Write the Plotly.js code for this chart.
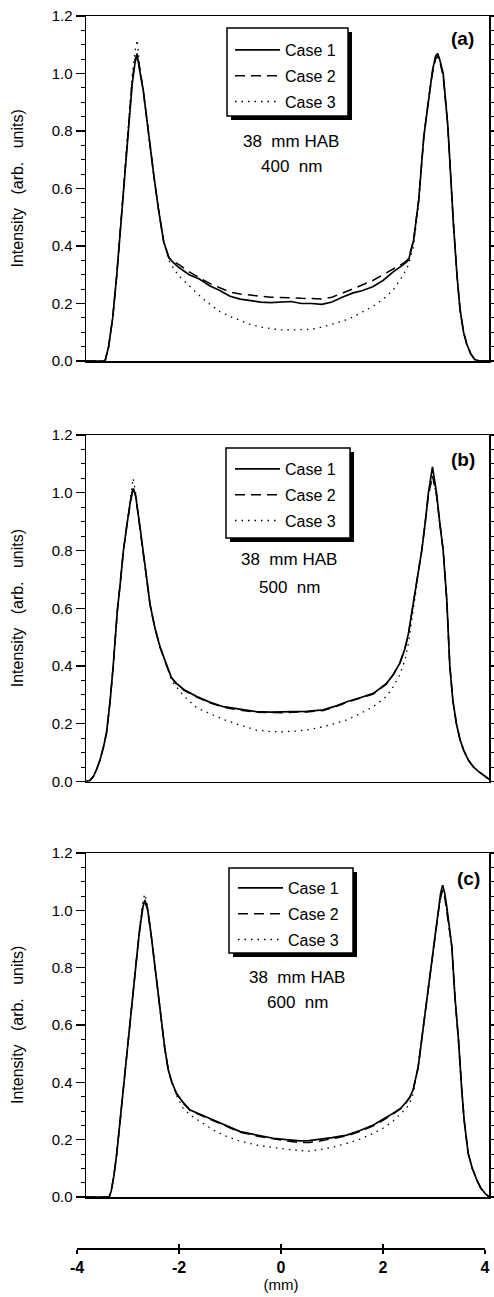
<!DOCTYPE html>
<html><head><meta charset="utf-8">
<script src="https://cdn.plot.ly/plotly-3.0.1.min.js"></script>
<style>html,body{margin:0;padding:0;background:#fff}#chart{width:494px;height:1297px}</style>
</head><body><div id="chart"></div>
<script>
// ---------- DATA ----------
const caseNames = ["Case 1", "Case 2", "Case 3"];
const panelLabels = ["(a)", "(b)", "(c)"];
const panelNotes = [["38\u00a0\u00a0mm\u00a0HAB", "400\u00a0\u00a0nm"], ["38\u00a0\u00a0mm\u00a0HAB", "500\u00a0\u00a0nm"], ["38\u00a0\u00a0mm\u00a0HAB", "600\u00a0\u00a0nm"]];
const yTickVals = [0, 0.2, 0.4, 0.6, 0.8, 1.0, 1.2];
const xTickVals = [-4, -2, 0, 2, 4];
const xAxisTitle = "(mm)";
const yAxisTitle = "Intensity\u00a0\u00a0\u00a0(arb.\u00a0\u00a0\u00a0units)";

// Panel (a) 400 nm
const xA  = [-3.82,-3.6,-3.45,-3.38,-3.30,-3.22,-3.15,-3.08,-3.00,-2.92,-2.86,-2.82,-2.78,-2.70,-2.63,-2.56,-2.49,-2.40,-2.30,-2.20,-2.10,-2.00,-1.80,-1.60,-1.40,-1.20,-1.00,-0.80,-0.60,-0.40,-0.20,0.00,0.20,0.40,0.60,0.80,1.00,1.20,1.40,1.60,1.80,2.00,2.20,2.40,2.50,2.60,2.70,2.80,2.90,2.97,3.03,3.07,3.11,3.18,3.27,3.32,3.38,3.45,3.51,3.58,3.64,3.72,3.80,3.90,4.08];
const yA1 = [0,0,0,0.05,0.15,0.30,0.45,0.62,0.80,0.96,1.04,1.065,1.02,0.94,0.84,0.73,0.64,0.525,0.415,0.36,0.34,0.325,0.30,0.285,0.262,0.245,0.225,0.215,0.21,0.205,0.203,0.205,0.207,0.20,0.20,0.197,0.205,0.222,0.236,0.245,0.258,0.28,0.31,0.335,0.35,0.42,0.56,0.78,0.92,1.01,1.06,1.07,1.05,1.00,0.82,0.66,0.48,0.30,0.18,0.10,0.06,0.025,0.005,0,0];
const yA2 = [0,0,0,0.05,0.15,0.30,0.45,0.62,0.80,0.97,1.05,1.07,1.03,0.94,0.84,0.73,0.64,0.525,0.415,0.36,0.345,0.335,0.31,0.29,0.27,0.255,0.24,0.233,0.228,0.225,0.222,0.222,0.22,0.218,0.218,0.216,0.222,0.235,0.25,0.265,0.28,0.30,0.32,0.34,0.355,0.42,0.56,0.78,0.92,1.00,1.05,1.06,1.045,0.99,0.82,0.66,0.48,0.30,0.18,0.10,0.06,0.025,0.005,0,0];
const yA3 = [0,0,0,0.05,0.15,0.30,0.46,0.63,0.82,0.99,1.08,1.117,1.04,0.94,0.84,0.73,0.64,0.525,0.415,0.35,0.32,0.295,0.262,0.228,0.198,0.172,0.155,0.14,0.127,0.118,0.112,0.108,0.108,0.108,0.11,0.118,0.127,0.138,0.152,0.17,0.19,0.215,0.247,0.30,0.334,0.40,0.55,0.78,0.92,1.01,1.06,1.07,1.05,1.00,0.82,0.66,0.48,0.30,0.18,0.10,0.06,0.025,0.005,0,0];

// Panel (b) 500 nm
const xB  = [-3.82,-3.75,-3.68,-3.62,-3.55,-3.48,-3.42,-3.35,-3.29,-3.21,-3.15,-3.09,-3.02,-2.95,-2.90,-2.85,-2.78,-2.70,-2.63,-2.57,-2.47,-2.37,-2.24,-2.15,-2.05,-1.90,-1.65,-1.40,-1.13,-0.80,-0.48,-0.20,0.00,0.24,0.50,0.83,1.05,1.29,1.55,1.81,2.07,2.20,2.33,2.43,2.50,2.60,2.68,2.76,2.83,2.89,2.97,3.05,3.11,3.18,3.25,3.31,3.37,3.44,3.51,3.58,3.67,3.77,3.87,3.97,4.08];
const yB1 = [0,0.003,0.017,0.04,0.074,0.12,0.17,0.28,0.40,0.59,0.69,0.80,0.89,0.975,1.015,0.99,0.90,0.80,0.70,0.615,0.53,0.465,0.40,0.36,0.34,0.318,0.294,0.275,0.259,0.25,0.242,0.24,0.24,0.242,0.243,0.248,0.26,0.276,0.29,0.305,0.34,0.37,0.41,0.46,0.513,0.62,0.70,0.80,0.90,1.00,1.09,1.00,0.90,0.80,0.63,0.40,0.28,0.20,0.145,0.109,0.075,0.051,0.035,0.022,0.008];
const yB2 = [0,0.003,0.017,0.04,0.074,0.12,0.17,0.28,0.40,0.59,0.69,0.80,0.89,0.975,1.02,0.99,0.90,0.80,0.70,0.615,0.53,0.465,0.40,0.36,0.338,0.316,0.292,0.273,0.257,0.247,0.24,0.238,0.238,0.24,0.241,0.246,0.258,0.274,0.288,0.303,0.338,0.37,0.41,0.46,0.513,0.62,0.70,0.80,0.90,0.99,1.06,0.99,0.90,0.80,0.63,0.40,0.28,0.20,0.145,0.109,0.075,0.051,0.035,0.022,0.008];
const yB3 = [0,0.003,0.017,0.04,0.074,0.12,0.17,0.28,0.40,0.59,0.69,0.80,0.89,0.985,1.05,1.00,0.90,0.80,0.70,0.615,0.53,0.465,0.40,0.35,0.328,0.295,0.255,0.235,0.215,0.195,0.178,0.173,0.172,0.174,0.178,0.19,0.20,0.213,0.235,0.259,0.295,0.328,0.37,0.42,0.48,0.60,0.70,0.80,0.90,0.99,1.055,0.99,0.90,0.80,0.63,0.40,0.28,0.20,0.145,0.109,0.075,0.051,0.035,0.022,0.008];

// Panel (c) 600 nm
const xC  = [-3.82,-3.50,-3.37,-3.33,-3.28,-3.22,-3.15,-3.09,-3.02,-2.96,-2.90,-2.85,-2.78,-2.71,-2.67,-2.62,-2.55,-2.47,-2.40,-2.34,-2.28,-2.21,-2.14,-2.05,-1.92,-1.78,-1.55,-1.33,-1.05,-0.80,-0.45,-0.15,0.10,0.37,0.55,0.76,1.00,1.29,1.55,1.81,2.00,2.20,2.35,2.46,2.53,2.59,2.69,2.79,2.89,2.99,3.09,3.13,3.17,3.21,3.25,3.35,3.41,3.48,3.54,3.59,3.67,3.75,3.84,3.92,4.00,4.08];
const yC1 = [0,0,0,0.02,0.07,0.152,0.27,0.385,0.50,0.60,0.70,0.80,0.92,1.01,1.036,1.01,0.92,0.80,0.68,0.60,0.52,0.443,0.40,0.362,0.33,0.303,0.285,0.269,0.248,0.228,0.215,0.205,0.20,0.196,0.197,0.201,0.207,0.216,0.232,0.251,0.27,0.292,0.31,0.332,0.35,0.373,0.454,0.594,0.733,0.873,1.013,1.06,1.088,1.06,1.013,0.873,0.70,0.548,0.385,0.27,0.152,0.10,0.059,0.03,0.013,0];
const yC2 = [0,0,0,0.02,0.07,0.152,0.27,0.385,0.50,0.60,0.70,0.80,0.92,1.01,1.03,1.005,0.92,0.80,0.68,0.60,0.52,0.443,0.40,0.36,0.328,0.301,0.283,0.267,0.246,0.226,0.212,0.202,0.196,0.19,0.19,0.195,0.203,0.213,0.229,0.248,0.267,0.29,0.308,0.33,0.348,0.373,0.454,0.594,0.733,0.873,1.00,1.045,1.07,1.045,1.00,0.873,0.70,0.548,0.385,0.27,0.152,0.10,0.059,0.03,0.013,0];
const yC3 = [0,0,0,0.02,0.07,0.152,0.27,0.385,0.50,0.60,0.70,0.80,0.93,1.03,1.057,1.02,0.92,0.80,0.68,0.60,0.52,0.443,0.40,0.355,0.31,0.286,0.26,0.234,0.21,0.195,0.18,0.172,0.167,0.162,0.16,0.165,0.173,0.187,0.202,0.222,0.24,0.265,0.29,0.31,0.33,0.36,0.45,0.594,0.733,0.873,1.00,1.045,1.07,1.045,1.00,0.873,0.70,0.548,0.385,0.27,0.152,0.10,0.059,0.03,0.013,0];

const panelX = [xA, xB, xC];
const panelY = [[yA1, yA2, yA3], [yB1, yB2, yB3], [yC1, yC2, yC3]];

// ---------- LAYOUT HELPERS (pixel geometry of the 494x1297 page) ----------
const W = 494, H = 1297;
const fx = p => p / W;
const fy = p => 1 - p / H;
const FONT = "Liberation Sans, Arial, Helvetica, sans-serif";

const geo = [
  {top: 16,  bot: 361,   box: [227, 28, 348, 116],  leg: 33,  note: [291, 142, 167], lab: [462, 38]},
  {top: 435, bot: 781.5, box: [226, 448, 350, 538], leg: 452, note: [289, 560, 587], lab: [463, 460]},
  {top: 853, bot: 1197,  box: [229, 868, 353, 953], leg: 871, note: [297, 977, 1002], lab: [468, 878]}
];
const legX = [230, 230, 233];
const plotL = 86, plotR = 489;
const botL = 77, botR = 485, botY = 1248;
const xPerPx = 8 / (botR - botL);
const panelRange = [-4 + (plotL - botL) * xPerPx, -4 + (plotR - botL) * xPerPx];

const lineStyles = [
  {color: "#000", width: 1.7, dash: "solid"},
  {color: "#000", width: 1.5, dash: "10px,6px"},
  {color: "#000", width: 1.3, dash: "1.5px,5px"}
];

const traces = [];
const layout = {
  width: W, height: H,
  margin: {l: 0, r: 0, t: 0, b: 0},
  paper_bgcolor: "#fff", plot_bgcolor: "rgba(0,0,0,0)",
  font: {family: FONT, color: "#000", size: 15},
  shapes: [], annotations: [],
  showlegend: true
};

for (let p = 0; p < 3; p++) {
  const sfx = p === 0 ? "" : String(p + 1);
  const legKey = p === 0 ? "legend" : "legend" + (p + 1);
  for (let c = 0; c < 3; c++) {
    traces.push({
      type: "scatter", mode: "lines",
      x: panelX[p], y: panelY[p][c],
      name: caseNames[c],
      xaxis: "x" + sfx, yaxis: "y" + sfx,
      legend: legKey, legendgroup: "g" + p + c,
      line: lineStyles[c],
      hoverinfo: "skip"
    });
  }
  const g = geo[p];
  layout["xaxis" + sfx] = {
    domain: [fx(plotL), fx(plotR)], range: panelRange, anchor: "y" + sfx,
    showline: true, mirror: true, linecolor: "#000", linewidth: 1.5,
    ticks: "", showticklabels: false, showgrid: false, zeroline: false, fixedrange: true
  };
  layout["yaxis" + sfx] = {
    domain: [fy(g.bot), fy(g.top)], range: [0, 1.2], anchor: "x" + sfx,
    showline: true, mirror: "ticks", linecolor: "#000", linewidth: 1.5,
    ticks: "outside", ticklen: 9, tickwidth: 1.3, tickcolor: "#000",
    tickvals: yTickVals, tickformat: ".1f",
    tickfont: {family: FONT, size: 15, color: "#000"},
    minor: {dtick: 0.05, ticks: "outside", ticklen: 4, tickwidth: 1, tickcolor: "#000", showgrid: false},
    showgrid: false, zeroline: false, fixedrange: true
  };
  layout[legKey] = {
    x: fx(legX[p]), y: fy(g.leg), xanchor: "left", yanchor: "top",
    bgcolor: "rgba(0,0,0,0)", borderwidth: 0,
    font: {family: FONT, size: 16, color: "#000"},
    tracegroupgap: 2, itemwidth: 45
  };
  const b = g.box;
  layout.shapes.push({type: "rect", xref: "paper", yref: "paper",
    x0: fx(b[0] + 4), x1: fx(b[2] + 4), y0: fy(b[1] + 4), y1: fy(b[3] + 4),
    fillcolor: "#000", line: {width: 0}, layer: "above"});
  layout.shapes.push({type: "rect", xref: "paper", yref: "paper",
    x0: fx(b[0]), x1: fx(b[2]), y0: fy(b[1]), y1: fy(b[3]),
    fillcolor: "#fff", line: {color: "#000", width: 1.5}, layer: "above"});
  layout.annotations.push({xref: "paper", yref: "paper", x: fx(g.note[0]), y: fy(g.note[1]),
    text: panelNotes[p][0], showarrow: false, xanchor: "center", yanchor: "middle",
    font: {family: FONT, size: 17, color: "#000"}});
  layout.annotations.push({xref: "paper", yref: "paper", x: fx(g.note[0]), y: fy(g.note[2]),
    text: panelNotes[p][1], showarrow: false, xanchor: "center", yanchor: "middle",
    font: {family: FONT, size: 17, color: "#000"}});
  layout.annotations.push({xref: "paper", yref: "paper", x: fx(g.lab[0]), y: fy(g.lab[1]),
    text: "<b>" + panelLabels[p] + "</b>", showarrow: false, xanchor: "center", yanchor: "middle",
    font: {family: FONT, size: 19, color: "#000"}});
  layout.annotations.push({xref: "paper", yref: "paper", x: fx(17), y: fy((g.top + g.bot) / 2),
    text: yAxisTitle, showarrow: false, textangle: -90, xanchor: "center", yanchor: "middle",
    font: {family: FONT, size: 16, color: "#000"}});
}

// separate bottom (mm) scale: empty traces so that its subplot is created
traces.push({type: "scatter", mode: "lines", x: [], y: [], xaxis: "x4", yaxis: "y4", showlegend: false, hoverinfo: "skip"});
traces.push({type: "scatter", mode: "lines", x: [], y: [], xaxis: "x5", yaxis: "y4", showlegend: false, hoverinfo: "skip"});
layout.yaxis4 = {domain: [fy(botY), fy(botY - 2)], range: [0, 1], anchor: "x4", visible: false, fixedrange: true};
layout.xaxis4 = {
  domain: [fx(botL), fx(botR)], range: [-4, 4], anchor: "y4", side: "bottom",
  showline: true, linecolor: "#000", linewidth: 1.5,
  ticks: "outside", ticklen: 4, tickwidth: 1.5, tickcolor: "#000",
  tickvals: xTickVals, ticktext: xTickVals.map(v => "<b>" + v + "</b>"),
  tickfont: {family: FONT, size: 16, color: "#000"},
  title: {text: xAxisTitle, font: {family: FONT, size: 15, color: "#000"}, standoff: 5},
  showgrid: false, zeroline: false, fixedrange: true
};
layout.xaxis5 = {
  domain: [fx(botL), fx(botR)], range: [-4, 4], anchor: "y4", overlaying: "x4", side: "bottom",
  showline: false, ticks: "inside", ticklen: 4, tickwidth: 1.5, tickcolor: "#000",
  tickvals: xTickVals, showticklabels: false, showgrid: false, zeroline: false, fixedrange: true
};

Plotly.newPlot("chart", traces, layout, {staticPlot: true, displayModeBar: false});
</script>
</body></html>
